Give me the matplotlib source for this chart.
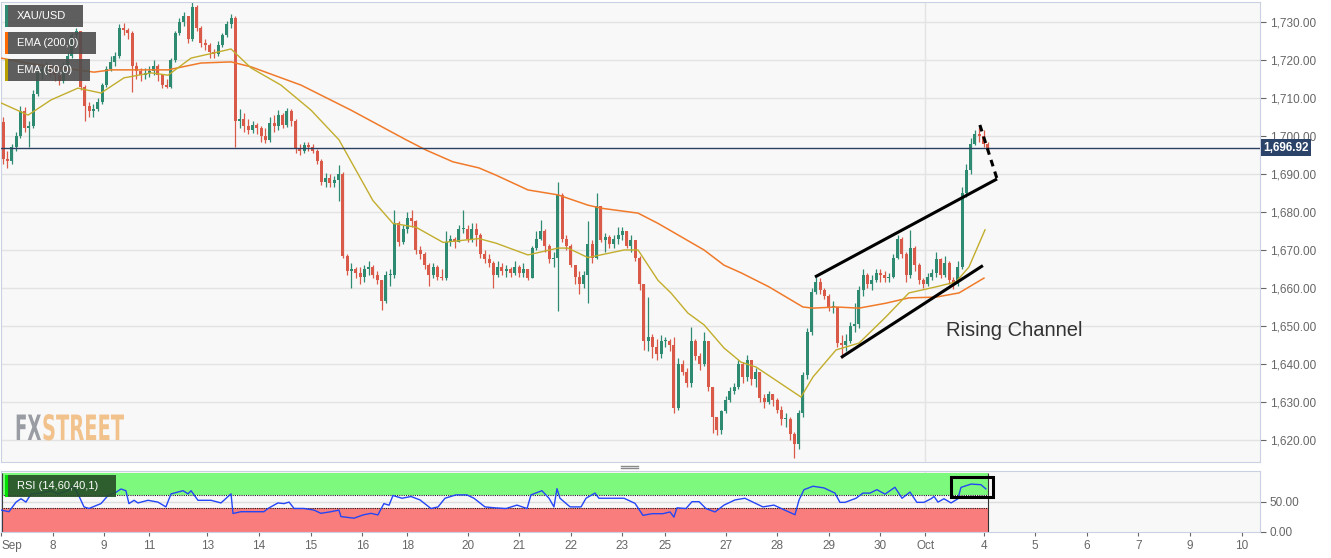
import numpy as np
import matplotlib.pyplot as plt
from matplotlib.patches import Rectangle, PathPatch
from matplotlib.textpath import TextPath
from matplotlib.font_manager import FontProperties
from matplotlib.transforms import Affine2D, IdentityTransform
from matplotlib.lines import Line2D

plt.rcParams['font.family'] = ['Liberation Sans', 'DejaVu Sans']

# XAU/USD, 2-hour candles (x axis is in trading hours)
first_open = 1703.7
closes = [1694, 1693.5, 1697, 1700, 1706.5, 1702, 1702.5, 1711, 1716.5, 1717.5,
          1718.5, 1717, 1716, 1714.5, 1718.5, 1721, 1726.5, 1727.5, 1713, 1708,
          1706.5, 1707, 1709, 1713.5, 1717.5, 1719.5, 1721, 1728.5, 1728, 1727,
          1718.5, 1717, 1716, 1716.5, 1717, 1718.5, 1716, 1713.5, 1713, 1720,
          1727, 1730, 1731.5, 1725.5, 1734, 1728.5, 1724.5, 1724, 1722, 1721.5,
          1724, 1726.5, 1729.5, 1731, 1704, 1704.5, 1702.5, 1701.5, 1703, 1702,
          1700, 1699, 1703.5, 1702.5, 1705.5, 1703, 1706.5, 1704, 1696.5, 1696,
          1697.5, 1697, 1696, 1693.5, 1688, 1689, 1687.5, 1688.5, 1690, 1668.5,
          1664.5, 1665, 1664, 1663, 1665, 1665.5, 1663.5, 1662, 1656.5, 1663.5,
          1663.5, 1677, 1672, 1675.5, 1678.5, 1677.5, 1670, 1669, 1666, 1663.5,
          1665.5, 1663, 1662.5, 1672, 1673, 1672, 1675.5, 1675.5, 1673, 1675.5,
          1674, 1669, 1667.5, 1666.5, 1663.5, 1665.5, 1664.5, 1665, 1664, 1665.5,
          1664, 1665, 1662.5, 1670.5, 1673, 1675, 1671, 1667.5, 1668, 1684.5,
          1673, 1671, 1666, 1663, 1661, 1663.5, 1671.5, 1668, 1681.5, 1672.5,
          1673.5, 1671.5, 1673, 1674, 1675, 1671, 1672.5, 1668, 1661, 1646,
          1647, 1644.5, 1642.5, 1646, 1646, 1645, 1628.5, 1640, 1638, 1635,
          1646, 1642, 1640, 1646, 1634, 1626, 1622.5, 1627.5, 1630.5, 1633,
          1634, 1640, 1636.5, 1641, 1636, 1638, 1631, 1630, 1632, 1630.5,
          1628, 1625.5, 1625.5, 1621.5, 1619, 1627, 1637, 1648.5, 1659, 1661.5,
          1659.5, 1658, 1655, 1655, 1645.5, 1645, 1646, 1650, 1650.5, 1659.5,
          1663.5, 1661, 1662, 1664, 1663.5, 1662.5, 1663, 1668, 1673, 1669,
          1663.5, 1670.5, 1666, 1662, 1661, 1663, 1664, 1667.5, 1663.5, 1666.5,
          1662, 1661, 1665.5, 1685, 1691, 1698, 1700.5, 1700, 1698, 1696.92]
highs = [1705, 1696, 1698, 1701, 1708, 1707.5, 1704, 1712, 1718, 1719,
         1719.5, 1719, 1718, 1716.5, 1719.5, 1722, 1727, 1728.5, 1727.5, 1713.5,
         1709, 1708.5, 1710, 1714, 1718.5, 1721, 1722, 1729.5, 1729.8, 1728.5,
         1727.5, 1719.5, 1718, 1718, 1718.5, 1720, 1719, 1716, 1715, 1720.5,
         1727.5, 1731, 1732.5, 1731.5, 1735.3, 1734.5, 1729, 1725.5, 1724.5, 1723,
         1725, 1727, 1730.2, 1732, 1731.5, 1707, 1706, 1704.5, 1704, 1703.5,
         1702.5, 1702, 1705, 1705.5, 1706.8, 1706, 1707.4, 1707, 1704.5, 1698,
         1698.5, 1698.5, 1697.8, 1696.5, 1694, 1690.3, 1690, 1689.5, 1692.4, 1690.5,
         1669, 1666.5, 1665.5, 1665.5, 1666, 1667, 1666, 1664.5, 1662, 1664.5,
         1665, 1680.5, 1677.5, 1676.5, 1680, 1680.5, 1678, 1671, 1669.5, 1666.5,
         1666.5, 1666, 1665, 1675, 1674, 1673.5, 1676.5, 1680.5, 1676.5, 1677,
         1677, 1674.5, 1670, 1669, 1667, 1667, 1666.5, 1666, 1665.5, 1667,
         1666, 1666.5, 1665, 1671, 1675, 1678, 1675.5, 1671.5, 1669.5, 1687.9,
         1685, 1674, 1671.5, 1666, 1664.5, 1664.5, 1677.5, 1672.5, 1685, 1681.5,
         1674.5, 1674, 1674, 1676, 1676, 1675, 1674, 1672.5, 1668.5, 1661,
         1657.5, 1648, 1646.5, 1647.5, 1647, 1646.5, 1647, 1641.5, 1641, 1639,
         1649.7, 1646.5, 1643, 1648.5, 1646, 1634, 1626, 1628, 1631.5, 1634,
         1635, 1641, 1640.5, 1642.4, 1641, 1639, 1638, 1632, 1633, 1632,
         1631, 1629, 1627, 1626, 1622, 1628, 1638, 1649.5, 1660, 1663,
         1662.5, 1660, 1658.5, 1656.5, 1655, 1647.5, 1648, 1651, 1656, 1660.5,
         1665, 1664, 1663.5, 1665, 1665, 1664.5, 1664, 1669, 1674, 1673.5,
         1669.5, 1675.3, 1671, 1666.5, 1662.5, 1664, 1665, 1669.5, 1668, 1668.5,
         1667, 1663, 1667, 1686.5, 1692.5, 1699.5, 1701.5, 1702.4, 1701.5, 1698.5]
lows = [1692.5, 1691.6, 1692.5, 1696, 1699.5, 1701, 1697, 1702, 1710.5, 1715,
        1716, 1715.5, 1714.5, 1713.5, 1714, 1718, 1720.5, 1725, 1712, 1704,
        1705, 1705, 1706.5, 1708.5, 1713, 1717, 1718.5, 1720.5, 1726.5, 1725.5,
        1711.6, 1715, 1714.5, 1715, 1715.5, 1716, 1714.5, 1712.6, 1712.6, 1712.5,
        1719.5, 1726.5, 1729, 1724.5, 1725, 1727.5, 1723.5, 1722.5, 1720.5, 1720.5,
        1721, 1723.5, 1726, 1728.5, 1697, 1702, 1701, 1700.5, 1700.8, 1700.5,
        1698.5, 1698.2, 1698.5, 1701, 1701.6, 1702, 1702.4, 1702.5, 1695.5, 1695,
        1695.5, 1696, 1695.5, 1692.5, 1687, 1686.6, 1686.6, 1686.5, 1683, 1668,
        1663.5, 1660, 1662.5, 1661, 1661.5, 1663.5, 1662.5, 1661, 1654.2, 1656,
        1660.5, 1662.5, 1671, 1671.5, 1674.5, 1676, 1669, 1667.5, 1665, 1660.5,
        1662.5, 1662, 1662, 1662, 1671, 1670.5, 1672, 1674.5, 1672, 1672,
        1671, 1668, 1666.5, 1665.5, 1660, 1663, 1663.5, 1663, 1663, 1663.5,
        1663, 1663, 1662, 1662.5, 1670, 1672.5, 1669.5, 1666.5, 1665.5, 1654,
        1672, 1670, 1665.5, 1661, 1658.5, 1660, 1656, 1666.5, 1667.5, 1672,
        1669.5, 1670.5, 1670.5, 1671.5, 1672.5, 1670.5, 1669.5, 1667, 1659.5, 1643.7,
        1643.5, 1641.5, 1641, 1641.5, 1644.5, 1643.5, 1627, 1628, 1637, 1634,
        1634, 1641, 1638.5, 1639.5, 1633, 1621.8, 1621.3, 1621.5, 1627, 1630,
        1632, 1633.5, 1635, 1635.5, 1634.5, 1634, 1630, 1628.5, 1629.5, 1629,
        1627, 1624, 1623.5, 1620, 1615.3, 1617.5, 1626, 1636, 1647.5, 1658.5,
        1658.5, 1657, 1654, 1653.5, 1644.5, 1641.6, 1643.5, 1645.5, 1648.5, 1649.5,
        1658, 1660, 1659.5, 1661.5, 1661.5, 1661.5, 1661.5, 1662.5, 1667.5, 1668,
        1661.5, 1662.5, 1664.5, 1661, 1660, 1660.5, 1662, 1663, 1662.5, 1663,
        1661, 1659.7, 1660.5, 1665, 1684, 1690, 1697.5, 1698.5, 1697, 1696]

# moving averages as drawn on the chart (hour, price)
ema200_hours = [0, 14, 43.3, 51.2, 77.7, 93, 107, 116.3, 139.5, 162.8,
                188.4, 197.7, 210.2, 222.3, 230.2, 245.1, 259.1, 273, 279.1, 296.3,
                305.6, 320.9, 327, 336.3, 344.2, 357.2, 373, 377.7, 388.4, 399.1,
                411.6, 422.3, 434.9, 445.6, 457.2]
ema200_values = [1720.5, 1719, 1716.8, 1717.4, 1717.4, 1719.2, 1719.5, 1718.2, 1713.4, 1706.8,
                 1699, 1696.3, 1693.2, 1691.6, 1689.7, 1685.8, 1684.5, 1681.8, 1681, 1679.7,
                 1677, 1672, 1670, 1666, 1664, 1660.3, 1655, 1654.7, 1655, 1654.7,
                 1656, 1657.4, 1657.6, 1658.7, 1662.6]
ema50_hours = [0, 12.6, 23.3, 35.8, 46.5, 57.2, 69.8, 77.7, 88.4, 100.9,
               107, 116.3, 130.2, 144.2, 157.2, 165.1, 173, 182.3, 193, 205.6,
               222.3, 230.2, 245.1, 259.1, 263.7, 273, 289.8, 296.3, 305.6, 311.6,
               319.5, 327, 336.3, 344.2, 351.2, 372.1, 377.7, 388.4, 399.1, 411.6,
               422.3, 434.9, 444.2, 450.2, 457.7]
ema50_values = [1708.7, 1705.5, 1709.5, 1712.6, 1711.3, 1715.3, 1716.6, 1716, 1720.5, 1722.1,
                1722.9, 1717.9, 1713.4, 1706.8, 1699, 1691, 1683, 1677, 1676, 1672,
                1673, 1671.8, 1668.7, 1670.5, 1670.5, 1668, 1670, 1670, 1662, 1658.7,
                1653.4, 1650.3, 1644.2, 1640.5, 1639.2, 1631.3, 1636.6, 1643.7, 1645.5, 1652.4,
                1658.7, 1660.3, 1661.6, 1665.5, 1675.3]

# RSI(14) line
rsi_hours = [0, 3.7, 7, 9.3, 11.6, 14, 18.6, 23.3, 26.5, 31.2,
             33.5, 35.8, 38.6, 40.9, 46.5, 49.8, 53.5, 55.8, 58.1, 59.5,
             61.9, 63.7, 68.4, 73, 76.7, 79.1, 84.7, 87, 88.4, 91.6,
             97.7, 102.3, 107, 107.9, 111.6, 117.7, 122.3, 124.2, 128.8, 131.6,
             134, 136.3, 140.9, 145.6, 148.8, 153.5, 157.2, 158.1, 164.2, 168.4,
             172.1, 175.3, 178.1, 180.5, 182.3, 186.5, 190.7, 194.9, 200, 203.3,
             206.5, 211.6, 216.7, 220, 225.1, 229.8, 234.9, 240, 244.7, 246.5,
             251.6, 254.9, 257.2, 258.6, 260, 264.7, 269.8, 272.1, 276.3, 278.1,
             284.7, 289.8, 294.9, 298.6, 302.8, 307.9, 311.2, 313, 314.4, 318.6,
             321.4, 324.7, 327.9, 332.1, 336.3, 341.4, 346, 349.3, 354.4, 359.5,
             364.7, 369.3, 371.2, 373.5, 377.7, 382.8, 387.9, 390.2, 392.6, 397.7,
             400.9, 404.2, 407.4, 411.2, 415.8, 419.1, 422.8, 426, 429.3, 432.6,
             434, 435.8, 438.6, 441.9, 445.1, 446.5, 451.2, 455.8, 458.1]
rsi_values = [35.7, 33, 49, 54.6, 49, 62.7, 63.8, 68, 62.7, 68,
              76, 62.7, 41, 38.4, 46.5, 60, 65.4, 70.8, 68, 46.5,
              52, 47.6, 52, 49, 41, 62.7, 68, 62.7, 68, 52,
              52, 47.6, 62.7, 30, 33, 33, 33, 38.4, 47.6, 46.5,
              49, 38.4, 38.4, 35.7, 30.3, 33, 35.7, 24.9, 22.2, 27.6,
              30.3, 27.6, 46.5, 43.8, 60, 55.4, 58.3, 52.6, 38.3, 41,
              55.4, 61, 61, 55.4, 41, 39.4, 38.3, 44, 38.3, 61,
              68, 55.4, 41, 71.4, 55.4, 41, 41, 55.4, 64, 55.4,
              55.4, 55.4, 46.9, 26.9, 29.7, 29.7, 32.6, 24, 39.4, 38.3,
              49.7, 49.7, 38.3, 32.6, 44, 52.6, 55.4, 49.7, 41, 44,
              35.4, 28, 52.6, 69.7, 75.4, 72.6, 64, 48.6, 48.6, 55.4,
              64, 64, 69.7, 62.3, 73.7, 55.4, 65.7, 48.6, 48.6, 54.6,
              58.4, 49, 54.6, 47.6, 54.6, 73.5, 79, 78, 71]

tick_hours = [0, 24, 48, 69, 96, 120, 144, 168, 189, 217, 241, 265, 289,
              309, 337, 361, 385, 409, 430, 457, 481, 505, 529, 553, 577]
tick_labels = ['Sep', '8', '9', '11', '13', '14', '15', '16', '18', '20', '21', '22', '23',
               '25', '27', '28', '29', '30', 'Oct', '4', '5', '6', '7', '9', '10']
price_ticks = [1620, 1630, 1640, 1650, 1660, 1670, 1680, 1690, 1700, 1710, 1720, 1730]
last_price = 1696.92

# hand drawn lines
upper_channel = ([378.6, 463.3], [1662.9, 1688.7])
lower_channel = ([390.7, 456.7], [1641.7, 1665.9])
pullback = ([455.3, 463.3], [1702.9, 1688.7])
rsi_box = (441.9, 58, 461.3, 90.3)

UP = '#2f8a72'
DOWN = '#da5a4a'
FRAME = '#c9d1e3'
W, H = 1331, 558

def px_rect(x0, y0, x1, y1):
    return [x0 / W, 1 - y1 / H, (x1 - x0) / W, (y1 - y0) / H]

fig = plt.figure(figsize=(W / 100, H / 100), dpi=100)
ax = fig.add_axes(px_rect(1, 1.5, 1260, 461.5))
ax_rsi = fig.add_axes(px_rect(1, 470.7, 1260, 531.7), sharex=ax)

for a in (ax, ax_rsi):
    a.set_facecolor('#f8f8f8')
    for s in a.spines.values():
        s.set_color(FRAME)
    a.axvline(430, color='#e3e3e3', lw=1, zorder=0)

# candles
c = np.array(closes)
o = np.array([first_open] + closes[:-1])
x = np.arange(len(c)) * 2 + 1
colors = np.where(c >= o, UP, DOWN)
ax.vlines(x, lows, highs, colors=colors, lw=0.9, zorder=2)
ax.bar(x, np.maximum(np.abs(c - o), 0.2), bottom=np.minimum(o, c), width=1.4,
       color=colors, linewidth=0, zorder=3)

ax.plot(ema200_hours, ema200_values, color='#f07a2a', lw=1.1, zorder=4)
ax.plot(ema50_hours, ema50_values, color='#c2ad2c', lw=1.0, zorder=4)

ax.axhline(last_price, color='#2b3f63', lw=1, zorder=5)
ax.text(1.0025, last_price, '1,696.92', transform=ax.get_yaxis_transform(),
        ha='left', va='center', color='white', fontsize=8.5, fontweight='bold',
        bbox=dict(boxstyle='square,pad=0.22', fc='#2b4369', ec='none'), clip_on=False)

ax.plot(*upper_channel, color='black', lw=2.2, zorder=6, solid_capstyle='butt')
ax.plot(*lower_channel, color='black', lw=2.2, zorder=6, solid_capstyle='butt')
ax.plot(*pullback, color='black', lw=2.2, ls=(0, (2.2, 1.8)), zorder=6)
ax.text(471.2, 1648.7, 'Rising Channel', ha='center', va='center', fontsize=14.5, color='#333333')

ax.set_xlim(0, 585.6)
ax.set_ylim(1614.34, 1735.39)
ax.yaxis.tick_right()
ax.set_yticks(price_ticks)
ax.set_yticklabels(['{:,.2f}'.format(p) for p in price_ticks])
ax.tick_params(axis='y', colors='#666666', labelsize=8.5, length=4, pad=3)
ax.tick_params(axis='x', bottom=False, labelbottom=False)
ax.grid(axis='y', color='#e3e3e3', lw=1)
ax.set_axisbelow(True)

# RSI panel
end = x[-1]
ax_rsi.axhline(50, color='#dddddd', lw=1, zorder=0)
ax_rsi.fill_between([0, end], 60, 98, color='#7dfa7d', lw=0, zorder=1)
ax_rsi.fill_between([0, end], 0, 40, color='#fa7d7d', lw=0, zorder=1)
ax_rsi.hlines([60, 40], 0, end, colors='#222222', lw=0.8, linestyles=(0, (1, 1)), zorder=2)
ax_rsi.vlines([0.3, end], 0, 98, colors='#333333', lw=0.8, zorder=2)
ax_rsi.plot(rsi_hours, rsi_values, color='#2446f5', lw=1, zorder=3)
ax_rsi.add_patch(Rectangle((rsi_box[0], rsi_box[1]), rsi_box[2] - rsi_box[0], rsi_box[3] - rsi_box[1],
                           fill=False, ec='black', lw=2.2, zorder=4))
ax_rsi.set_ylim(-0.3, 101.3)
ax_rsi.yaxis.tick_right()
ax_rsi.set_yticks([0, 50])
ax_rsi.set_yticklabels(['0.00', '50.00'])
ax_rsi.set_xticks(tick_hours)
ax_rsi.set_xticklabels(tick_labels)
ax_rsi.get_xticklabels()[0].set_ha('left')
ax_rsi.tick_params(axis='both', colors='#666666', labelsize=8.5, length=3, pad=3)
ax_rsi.tick_params(axis='y', length=4)

# legend boxes
def legend_box(x0, y0, x1, y1, stripe, label, fc):
    fig.add_artist(Rectangle((x0 / W, 1 - y1 / H), (x1 - x0) / W, (y1 - y0) / H,
                             transform=fig.transFigure, fc=fc, ec='none', zorder=10))
    fig.add_artist(Rectangle((x0 / W, 1 - y1 / H), 2.7 / W, (y1 - y0) / H,
                             transform=fig.transFigure, fc=stripe, ec='none', zorder=11))
    fig.text((x0 + 12) / W, 1 - (y0 + y1) / 2 / H, label, color='white', fontsize=8,
             va='center', zorder=12)

legend_box(5, 5, 83, 27, UP, 'XAU/USD', (0.3, 0.3, 0.3, 0.9))
legend_box(5, 32, 96, 54, '#ff6a00', 'EMA (200,0)', (0.3, 0.3, 0.3, 0.9))
legend_box(5, 59, 90, 81, '#b8a000', 'EMA (50,0)', (0.3, 0.3, 0.3, 0.9))
legend_box(5, 475, 116, 497, '#00e000', 'RSI (14,60,40,1)', (0.15, 0.3, 0.15, 0.9))

# FXSTREET watermark, squeezed like the condensed logo font
fp = FontProperties(family='DejaVu Sans', weight='bold')
fx_path = TextPath((0, 0), 'FX', size=1, prop=fp)
st_path = TextPath((0, 0), 'STREET', size=1, prop=fp)
sx = 26 / fx_path.get_extents().x1
sy = 25.5 / 0.73
fig.add_artist(PathPatch(fx_path, transform=Affine2D().scale(sx, sy).translate(15, H - 440) + IdentityTransform(),
                         fc='#9a9ca3', lw=0, zorder=1))
sx2 = 82 / st_path.get_extents().x1
fig.add_artist(PathPatch(st_path, transform=Affine2D().scale(sx2, sy).translate(42, H - 440) + IdentityTransform(),
                         fc='#f2c28c', lw=0, zorder=1))

# panel grip
for yy in (465.5, 467.5):
    fig.add_artist(Line2D([621 / W, 638 / W], [1 - yy / H] * 2, color='#8a8a8a', lw=1))

fig.savefig('out.png', dpi=100, facecolor='white')
